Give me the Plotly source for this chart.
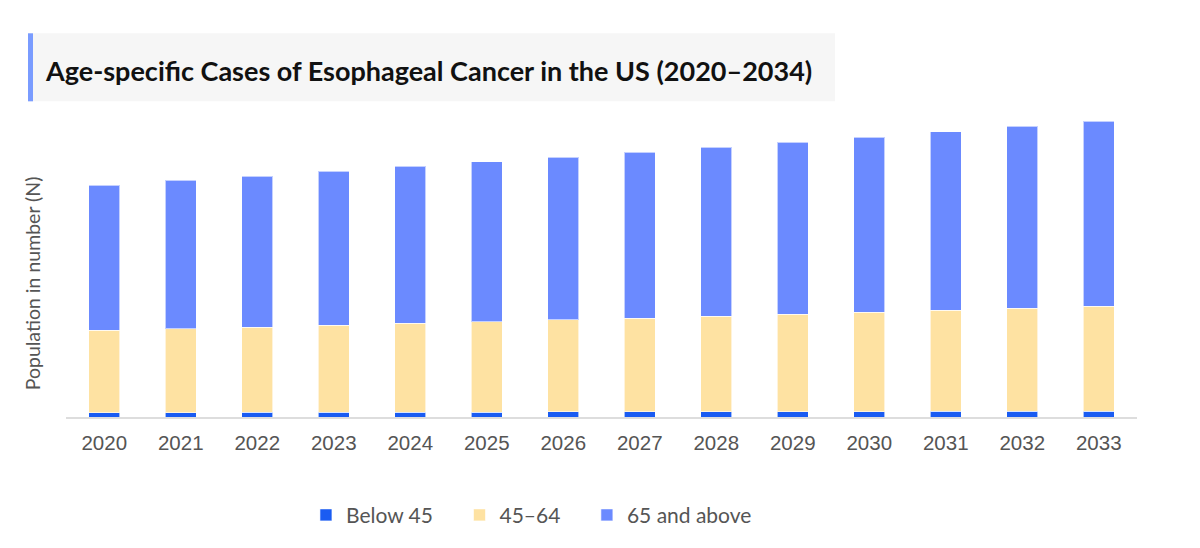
import plotly.graph_objs as go

# estimated case counts
years = ["2020", "2021", "2022", "2023", "2024", "2025", "2026",
         "2027", "2028", "2029", "2030", "2031", "2032", "2033"]

below_45 = [400, 405, 420, 430, 440, 450, 455, 460, 475, 485, 495, 510, 520, 540]
age_45_64 = [7400, 7550, 7680, 7820, 8020, 8140, 8310, 8450, 8610, 8780, 8950, 9090, 9260, 9420]
age_65_up = [13050, 13350, 13590, 13860, 14100, 14400, 14630, 14910, 15210, 15450, 15750, 16080, 16380, 16650]

series_names = ["Below 45", "45\u201364", "65 and above"]
colors = ["#1a5cf2", "#fee2a2", "#6b8aff"]

FONT = "Lato, 'Noto Sans', sans-serif"
PAD = "\u00a0" * 4  # extra room between legend entries

data = []
for i, (name, vals, col) in enumerate(zip(series_names, [below_45, age_45_64, age_65_up], colors)):
    data.append(go.Bar(
        x=years,
        y=vals,
        name=name + (PAD if i < len(series_names) - 1 else ""),
        width=0.41,
        marker=dict(color=col, line=dict(color="rgba(255,255,255,0.6)", width=1)),
    ))

# plot area on screen: x 66..1137, y 110.7..416.7 (page has an 8px body margin)
layout = go.Layout(
    barmode="stack",
    width=1200,
    height=548,
    paper_bgcolor="white",
    plot_bgcolor="white",
    margin=dict(l=58, r=71, t=103, b=139),
    font=dict(family=FONT, color="#555555"),
    xaxis=dict(
        showline=True,
        linecolor="#dddddd",
        linewidth=1.5,
        ticks="",
        ticklabelstandoff=7,
        tickfont=dict(size=20.5, color="#555555", family="'Liberation Sans', Arial, sans-serif"),
        showgrid=False,
    ),
    yaxis=dict(
        range=[0, 27540],
        showticklabels=False,
        showgrid=False,
        zeroline=False,
        ticks="",
    ),
    showlegend=True,
    legend=dict(
        orientation="h",
        x=0.4346,
        xanchor="center",
        y=-0.321,
        yanchor="middle",
        font=dict(size=21, color="#555555"),
        traceorder="normal",
    ),
    shapes=[
        # title box
        dict(type="rect", xref="paper", yref="paper",
             x0=(28 - 66) / 1071, x1=(835 - 66) / 1071,
             y0=(416.7 - 101) / 306, y1=(416.7 - 33) / 306,
             fillcolor="#f6f6f6", line=dict(width=0), layer="below"),
        dict(type="rect", xref="paper", yref="paper",
             x0=(28 - 66) / 1071, x1=(33 - 66) / 1071,
             y0=(416.7 - 101) / 306, y1=(416.7 - 33) / 306,
             fillcolor="#7a9cff", line=dict(width=0), layer="below"),
    ],
    annotations=[
        dict(text="<b>Age-specific Cases of Esophageal Cancer in the US (2020\u20132034)</b>",
             xref="paper", yref="paper",
             x=(43 - 66) / 1071, y=(416.7 - 70) / 306,
             xanchor="left", yanchor="middle", showarrow=False,
             font=dict(size=27, color="#111111", family=FONT)),
        dict(text="Population in number (N)",
             xref="paper", yref="paper",
             x=(32 - 66) / 1071, y=(416.7 - 283) / 306,
             xanchor="center", yanchor="middle", showarrow=False, textangle=-90,
             font=dict(size=19.5, color="#555555", family=FONT)),
    ],
)

fig = go.Figure(data=data, layout=layout)
fig.write_html("out.html")
